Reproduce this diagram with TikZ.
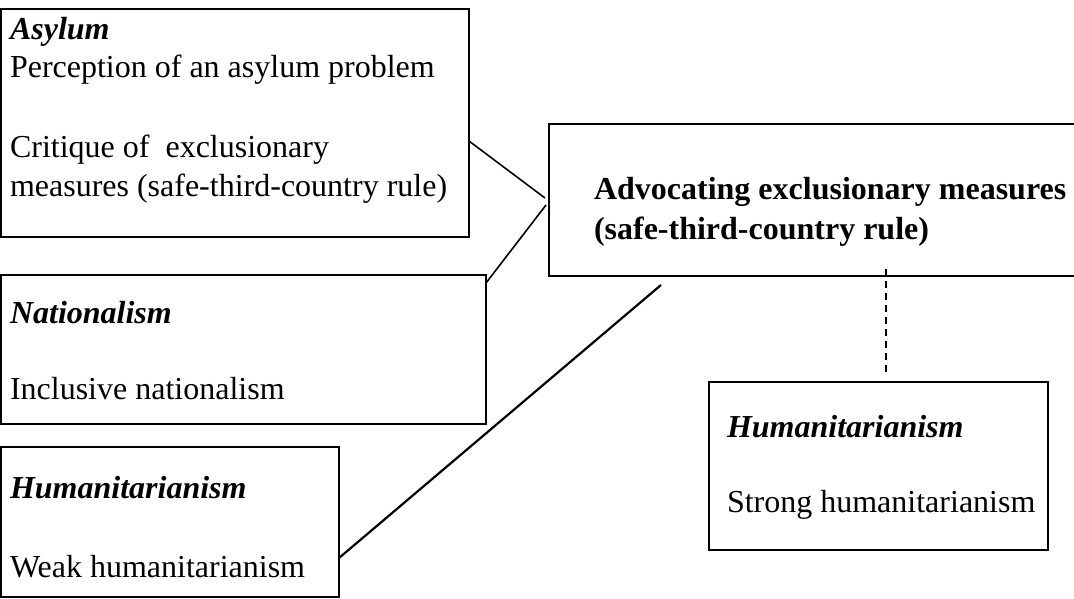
\documentclass[tikz,border=0pt]{standalone}
\usepackage{fontspec}
\setmainfont{Liberation Serif}
\begin{document}
\begin{tikzpicture}[x=1pt,y=-1pt,
  box/.style={draw, line width=1.6pt, rectangle, inner sep=0pt, outer sep=0pt, anchor=north west},
  txt/.style={anchor=base west, inner sep=0pt, outer sep=0pt, font=\fontsize{32}{37.5}\selectfont},
  head/.style={txt, font=\fontsize{32}{37.5}\selectfont\bfseries\itshape},
  bold/.style={txt, font=\fontsize{32}{37.5}\selectfont\bfseries},
  link/.style={line width=1.6pt},
  tie/.style={line width=1.8pt, dash pattern=on 7pt off 5pt}]
\useasboundingbox (0,0) rectangle (1074,598);
\clip (0,0) rectangle (1074,598);

% boxes
\node[box, minimum width=468pt, minimum height=228pt] (asylum) at (1,9) {};
\node[box, minimum width=485pt, minimum height=149pt] (nation) at (1,275) {};
\node[box, minimum width=338pt, minimum height=150pt] (weak) at (1,447) {};
\node[box, minimum width=531pt, minimum height=152pt] (main) at (549,124) {};
\node[box, minimum width=339pt, minimum height=168pt] (strong) at (709,382) {};

% texts
\node[head] (t1) at (10,39) {Asylum};
\node[txt] (t2) at (10,77) {Perception of an asylum problem};
\node[txt] (t3) at (10,157) {Critique of\ \ exclusionary};
\node[txt] (t4) at (10,196) {measures (safe-third-country rule)};

\node[head] (t5) at (10,323) {Nationalism};
\node[txt] (t6) at (10,399) {Inclusive nationalism};

\node[head] (t7) at (10,498) {Humanitarianism};
\node[txt] (t8) at (10,577) {Weak humanitarianism};

\node[bold] (t9) at (594,199) {Advocating exclusionary measures};
\node[bold] (t10) at (594,239) {(safe-third-country rule)};

\node[head] (t11) at (727,437) {Humanitarianism};
\node[txt] (t12) at (727,512) {Strong humanitarianism};

% connectors
\coordinate (j1) at (545,198);
\coordinate (j2) at (546,205);
\coordinate (w3) at (661,285);
\coordinate (d1) at (886,269);
\coordinate (d2) at (886,374);

\draw[link] ([yshift=-18pt]asylum.east) -- (j1);
\draw[link] ([yshift=-8pt]nation.north east) -- (j2);
\draw[link, line width=2.2pt] ([yshift=-36pt]weak.east) -- (w3);
\draw[tie] (d1) -- (d2);
\end{tikzpicture}
\end{document}
